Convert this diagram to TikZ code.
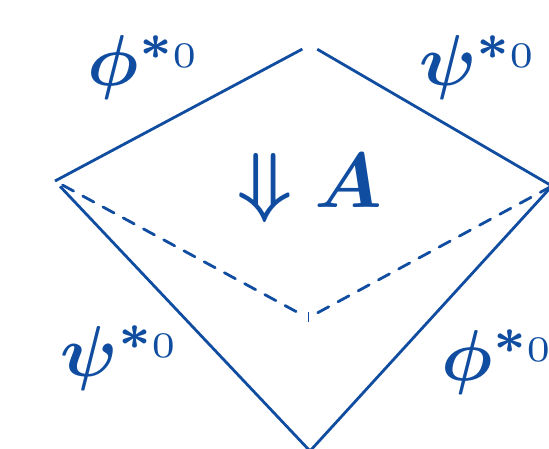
\documentclass[tikz,border=0pt]{standalone}
\usepackage{amsmath}
\usepackage{graphicx}
\usetikzlibrary{calc}
\definecolor{dblue}{RGB}{16,77,160}
\newcommand{\bigmath}[1]{\scalebox{7.2}{\boldmath$#1$}}
\begin{document}
\begin{tikzpicture}[x=1pt,y=-1pt,
  edge/.style={draw=dblue,line width=2.8pt},
  dedge/.style={edge,line cap=round,dash pattern=on 12.5pt off 10.5pt},
  lbl/.style={text=dblue,inner sep=0pt}]
\useasboundingbox (0,0) rectangle (549,449);
\coordinate (L) at (55,181);
\coordinate (T) at (310,45);
\coordinate (R) at (552,186);
\coordinate (B) at (310,451);
\coordinate (M) at (308,318);
\draw[edge] (L) -- ($(L)!0.97!(T)$);
\draw[edge] ($(T)!0.03!(R)$) -- (R);
\draw[edge] ($(L)!0.02!(B)$) -- (B);
\draw[edge] (R) -- (B);
\draw[dedge] ($(L)!0.03!(M)$) -- ($(L)!0.96!(M)$);
\draw[dedge] ($(M)!0.04!(R)$) -- (R);
\draw[dblue,line width=1pt] (M) ++(0,-6) -- ++(0,10);
\node[lbl] (tl) at (146,68) {\bigmath{\phi^{*_{\text{0}}}}};
\node[lbl] (tr) at (480,68) {\bigmath{\psi^{*_{\text{0}}}}};
\node[lbl] (bl) at (122,358) {\bigmath{\psi^{*_{\text{0}}}}};
\node[lbl] (br) at (500,362) {\bigmath{\phi^{*_{\text{0}}}}};
\node[lbl] (A) at (310,188) {\scalebox{7.8}{$\boldsymbol{\Downarrow}\boldsymbol{A}$}};
\end{tikzpicture}
\end{document}
